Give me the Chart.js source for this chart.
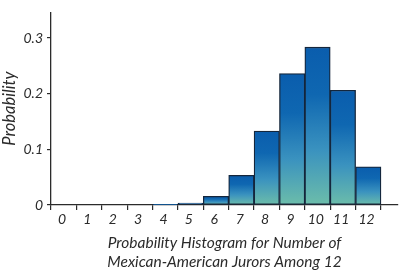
<!DOCTYPE html>
<html>
<head>
<meta charset="utf-8">
<script src="https://cdn.jsdelivr.net/npm/chart.js@4"></script>
<style>
  html, body { margin: 0; padding: 0; background: #fff; }
  #wrap { width: 400px; height: 271px; }
</style>
</head>
<body>
<div id="wrap"><canvas id="chart"></canvas></div>
<script>
// jurors count (0..12) and probability
const jurors = [0, 1, 2, 3, 4, 5, 6, 7, 8, 9, 10, 11, 12];
const probability = [0, 0, 0, 0, 0.0005, 0.0033, 0.0155, 0.0532, 0.1329, 0.2362, 0.2835, 0.2062, 0.0687];
const yTicks = [0, 0.1, 0.2, 0.3];

const font = "Lato";
const ink = "#2b2b2b";

const barFill = (ctx) => {
    const chart = ctx.chart;
    const y = chart.scales && chart.scales.y;
    if (!y || ctx.raw == null) return "#0b60ae";
    const top = y.getPixelForValue(ctx.raw.y);
    const bottom = y.getPixelForValue(0);
    if (!isFinite(top) || bottom - top < 1) return "#0b60ae";
    const g = chart.ctx.createLinearGradient(0, top, 0, bottom);
    g.addColorStop(0, "#0a5dad");
    g.addColorStop(0.3, "#0f67b1");
    g.addColorStop(0.65, "#3a92bf");
    g.addColorStop(1, "#6cbdaa");
    return g;
};

new Chart(document.getElementById("chart"), {
    type: "bar",
    data: {
        datasets: [{
            data: jurors.map((j, i) => ({ x: j, y: probability[i] })),
            backgroundColor: barFill,
            borderColor: "#14263c",
            borderWidth: 1.3,
            borderSkipped: false,
            barPercentage: 1,
            categoryPercentage: 1,
        }],
    },
    options: {
        responsive: true,
        maintainAspectRatio: false,
        animation: false,
        layout: { padding: { top: 2, right: 2, left: 0, bottom: 0 } },
        plugins: { legend: { display: false }, tooltip: { enabled: false } },
        scales: {
            x: {
                type: "linear",
                min: -0.5,
                max: 13.17,
                offset: false,
                afterBuildTicks: (s) => {
                    s.ticks = jurors.map(j => ({ value: j - 0.5 })).concat([{ value: 12.5 }]);
                },
                afterFit: (s) => { s.height = 66; },
                ticks: {
                    autoSkip: false,
                    maxRotation: 0,
                    labelOffset: 11,
                    padding: 1,
                    color: ink,
                    font: { family: font, size: 14, style: "italic" },
                    callback: (v) => (v + 0.5 <= 12 ? String(v + 0.5) : ""),
                },
                grid: { offset: false, drawOnChartArea: false, drawTicks: true, tickLength: 5, color: ink, lineWidth: 1.2 },
                border: { display: true, color: ink, width: 1.3 },
                title: {
                    display: true,
                    text: ["Probability Histogram for Number of", "Mexican-American Jurors Among 12"],
                    color: ink,
                    font: { family: font, size: 15.5, style: "italic", lineHeight: 1.2 },
                    padding: { top: 5, bottom: 0 },
                },
            },
            y: {
                min: 0,
                max: 0.346,
                afterBuildTicks: (s) => { s.ticks = yTicks.map(v => ({ value: v })); },
                afterFit: (s) => { s.width = 51; },
                ticks: {
                    color: ink,
                    padding: 4,
                    font: { family: font, size: 14, style: "italic" },
                    callback: (v) => (v === 0 ? "0" : v.toFixed(1)),
                },
                grid: { drawOnChartArea: false, drawTicks: true, tickLength: 4, color: ink, lineWidth: 1.2 },
                border: { display: true, color: ink, width: 1.3 },
                title: {
                    display: true,
                    text: "Probability",
                    color: ink,
                    font: { family: font, size: 16.5, style: "italic" },
                    padding: { top: 0, bottom: 0 },
                },
            },
        },
    },
});
</script>
</body>
</html>
